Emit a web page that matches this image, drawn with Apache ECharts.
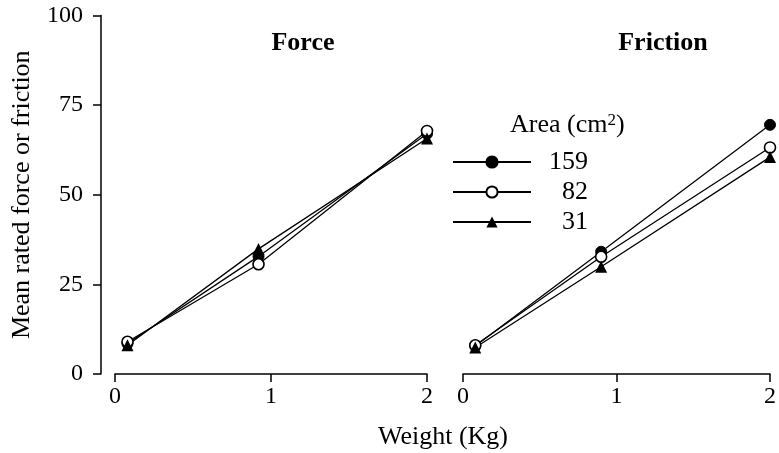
<!DOCTYPE html>
<html>
<head>
<meta charset="utf-8">
<style>html,body{margin:0;padding:0;background:#fff}#c{width:779px;height:453px}</style>
<script src="https://cdn.jsdelivr.net/npm/echarts@6/dist/echarts.min.js"></script>
</head>
<body>
<div id="c"></div>
<script>
// Data
const forceWeights = [0.08, 0.92, 2];
const frictionWeights = [0.08, 0.9, 2];
const areaLabels = ['159', '82', '31'];
const force159 = [8.5, 32.8, 67];
const force82 = [9, 30.6, 67.8];
const force31 = [8, 34.9, 65.7];
const friction159 = [7.8, 34.1, 69.5];
const friction82 = [8.0, 32.7, 63.2];
const friction31 = [7.4, 29.9, 60.5];
const yTicks = [0, 25, 50, 75, 100];
const xTicks = [0, 1, 2];

const FONT = 'Liberation Serif';
const pair = (xs, ys) => xs.map((x, i) => [x, ys[i]]);

const styles = {
  '159': { symbol: 'circle', symbolSize: 11, itemStyle: { color: '#000', borderColor: '#000', borderWidth: 1 } },
  '82': { symbol: 'circle', symbolSize: 11, itemStyle: { color: '#fff', borderColor: '#000', borderWidth: 1.6 } },
  '31': { symbol: 'triangle', symbolSize: 12, itemStyle: { color: '#000', borderColor: '#000', borderWidth: 0 } }
};

function mk(name, idx, xs, ys) {
  return Object.assign({
    name: name, type: 'line', xAxisIndex: idx, yAxisIndex: idx,
    data: pair(xs, ys),
    lineStyle: { color: '#000', width: 1.3 },
    emphasis: { disabled: true },
    z: 2
  }, styles[name]);
}

const axisCommon = {
  axisLine: { show: true, onZero: false, lineStyle: { color: '#000', width: 1.5 } },
  axisTick: { show: true, length: 8, inside: false, lineStyle: { color: '#000', width: 1.5 } },
  splitLine: { show: false }
};

const xAx = (gi) => Object.assign({
  type: 'value', gridIndex: gi, min: 0, max: 2, interval: 1,
  axisLabel: { color: '#000', fontFamily: FONT, fontSize: 24, margin: 11,
    formatter: v => xTicks.indexOf(v) >= 0 ? String(v) : '' }
}, axisCommon);

const titleStyle = (bold) => ({ fontFamily: FONT, fontWeight: bold ? 'bold' : 'normal', fontSize: 26, color: '#000' });

const option = {
  animation: false,
  backgroundColor: '#fff',
  textStyle: { fontFamily: FONT },
  grid: [
    { left: 115, top: 15.5, width: 312, height: 358.5 },
    { left: 463, top: 15.5, width: 310, height: 358.5 }
  ],
  title: [
    { text: 'Force', left: 303, top: 30, padding: 0, textAlign: 'center', textStyle: titleStyle(true) },
    { text: 'Friction', left: 663, top: 30, padding: 0, textAlign: 'center', textStyle: titleStyle(true) },
    { text: 'Area (cm{s|2})', left: 510, top: 112, padding: 0,
      textStyle: Object.assign(titleStyle(false), {
        rich: { s: { fontFamily: FONT, fontSize: 17, color: '#000', verticalAlign: 'top', padding: [0, 0, 8, 0] } } }) },
    { text: 'Weight (Kg)', left: 443, top: 424, padding: 0, textAlign: 'center', textStyle: titleStyle(false) }
  ],
  legend: {
    orient: 'vertical', left: 452, top: 149, padding: 0,
    itemWidth: 78, itemHeight: 14, itemGap: 4,
    selectedMode: false,
    data: areaLabels.map(n => ({ name: n })),
    formatter: n => '{a|' + n + '}',
    textStyle: { fontFamily: FONT, fontSize: 26, color: '#000',
      rich: { a: { fontFamily: FONT, fontSize: 26, lineHeight: 26, color: '#000', width: 52, align: 'right' } } }
  },
  xAxis: [xAx(0), xAx(1)],
  yAxis: [
    Object.assign({
      type: 'value', gridIndex: 0, min: 0, max: 100, interval: 25, offset: 14,
      name: 'Mean rated force or friction', nameLocation: 'middle', nameGap: 66,
      nameTextStyle: { fontFamily: FONT, fontSize: 26, color: '#000' },
      axisLabel: { color: '#000', fontFamily: FONT, fontSize: 24, margin: 18,
        formatter: v => yTicks.indexOf(v) >= 0 ? String(v) : '' }
    }, axisCommon),
    { type: 'value', gridIndex: 1, min: 0, max: 100, interval: 25, show: false }
  ],
  series: [
    mk('159', 0, forceWeights, force159),
    mk('82', 0, forceWeights, force82),
    mk('31', 0, forceWeights, force31),
    mk('159', 1, frictionWeights, friction159),
    mk('82', 1, frictionWeights, friction82),
    mk('31', 1, frictionWeights, friction31)
  ]
};

const chart = echarts.init(document.getElementById('c'), null, { renderer: 'canvas' });
chart.setOption(option);
</script>
</body>
</html>
